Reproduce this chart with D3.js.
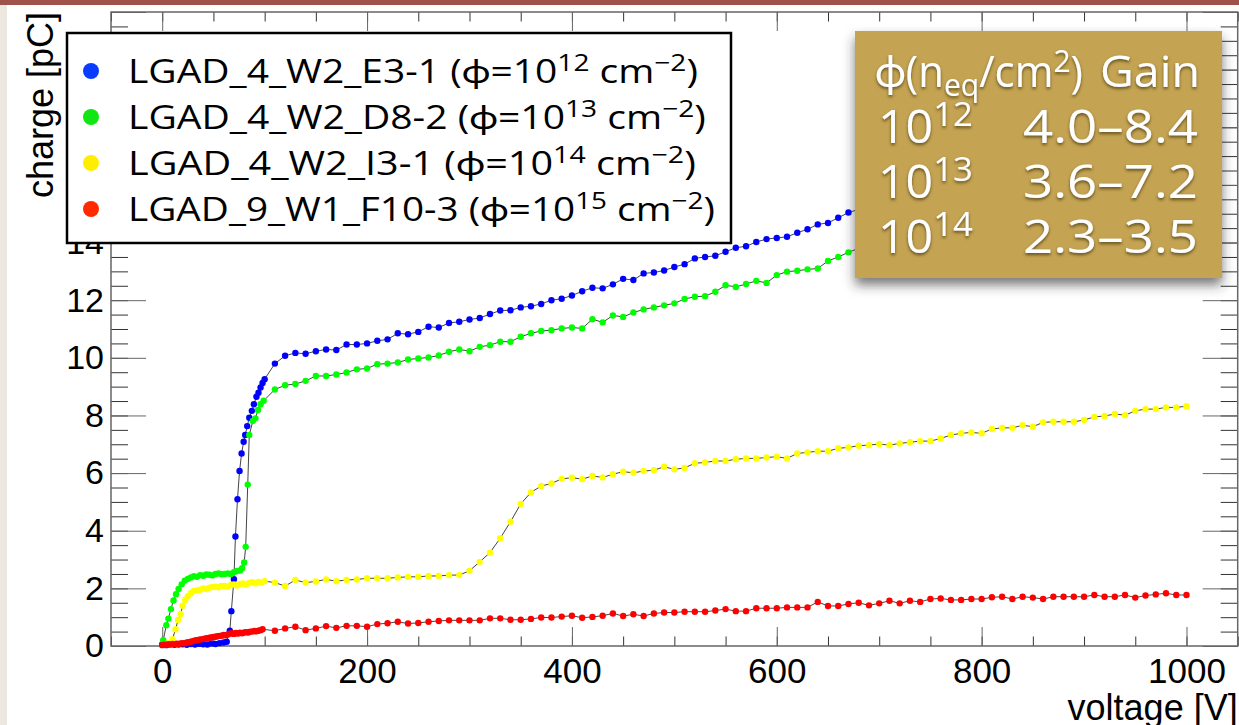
<!DOCTYPE html>
<html>
<head>
<meta charset="utf-8">
<script src="https://cdn.jsdelivr.net/npm/d3@7"></script>
<style>
  body { margin: 0; background: #ece7df; }
  svg { display: block; }
</style>
</head>
<body>
<svg id="svg" width="1239" height="725"></svg>
<script>
// charge vs bias voltage, one [V, pC] pair per measured point
var e31 = [[0,0.05],[4,0.03],[8,0.06],[12,0.04],[16,0.05],[20,0.06],[24,0.04],[28,0.07],[32,0.05],[36,0.08],[40,0.06],[44,0.05],[48,0.09],[52,0.07],[56,0.1],[60,0.12],[63,0.15],[66,0.53],[67.5,1.21],[70,2.32],[71.5,3.8],[73.5,5.09],[75.5,6.07],[77.5,6.68],[79.5,7.09],[81,7.32],[83,7.63],[85,7.92],[87.5,8.16],[89.5,8.39],[92,8.65],[94,8.79],[96,8.97],[98,9.13],[100,9.26],
  [110,9.8],[120,10.07],[130,10.17],[140,10.14],[150,10.23],[160,10.29],[170,10.27],[180,10.46],[190,10.46],[200,10.5],[210,10.59],[220,10.64],[230,10.85],[240,10.82],[250,10.9],[260,11.08],[270,11.05],[280,11.21],[290,11.25],[300,11.33],[310,11.38],[320,11.52],[330,11.64],[340,11.65],[350,11.75],[360,11.79],[370,11.87],[380,12.0],[390,12.05],[400,12.16],[410,12.31],[420,12.43],[430,12.41],[440,12.55],[450,12.74],[460,12.7],[470,12.93],[480,12.96],[490,13.03],[500,13.15],[510,13.25],[520,13.45],[530,13.5],[540,13.54],[550,13.68],[560,13.82],[570,13.87],[580,14.02],[590,14.12],[600,14.16],[610,14.2],[620,14.34],[630,14.46],[640,14.63],[650,14.68],[660,14.86],[670,15.04],[680,15.15],[690,15.3]];

var d82 = [[1,0.2],[4,0.72],[6,0.95],[8.5,1.28],[11,1.58],[13.5,1.8],[16,1.98],[19,2.14],[22,2.27],[25,2.33],[28,2.38],[31,2.42],[34,2.4],[37,2.46],[40,2.44],[43,2.48],[46,2.47],[49,2.45],[52,2.5],[55,2.52],[58,2.49],[61,2.5],[64,2.52],[67,2.5],[70,2.56],[73,2.6],[76,2.62],[78,2.7],[80,2.9],[81.5,3.44],[83.5,5.6],[85,7.32],[88.5,7.81],[91,7.9],[93.5,8.19],[96,8.39],[99,8.51],
  [110,8.9],[120,9.05],[130,9.09],[140,9.2],[150,9.37],[160,9.37],[170,9.42],[180,9.49],[190,9.6],[200,9.63],[210,9.78],[220,9.8],[230,9.84],[240,9.94],[250,9.98],[260,10.01],[270,10.08],[280,10.21],[290,10.29],[300,10.23],[310,10.38],[320,10.44],[330,10.56],[340,10.56],[350,10.73],[360,10.85],[370,10.93],[380,10.96],[390,11.02],[400,11.05],[410,11.02],[420,11.34],[430,11.23],[440,11.47],[450,11.42],[460,11.57],[470,11.68],[480,11.75],[490,11.82],[500,11.89],[510,12.04],[520,12.12],[530,12.14],[540,12.29],[550,12.52],[560,12.46],[570,12.56],[580,12.67],[590,12.6],[600,12.87],[610,12.99],[620,13.02],[630,13.07],[640,13.1],[650,13.36],[660,13.5],[670,13.66],[680,13.8],[690,13.92]];

var i31 = [[2,0.05],[5,0.08],[7,0.11],[10,0.24],[13,0.58],[15.5,0.9],[18,1.11],[20,1.4],[22.5,1.6],[25,1.73],[28,1.83],[31,1.91],[34,1.93],[37,1.95],[40,2.0],[43,1.98],[46,2.02],[49,2.05],[52,2.06],[55,2.04],[58,2.08],[61,2.08],[64,2.06],[67,2.12],[70,2.14],[73,2.1],[76,2.15],[79,2.17],[82,2.13],[85,2.2],[88,2.21],[91,2.18],[94,2.22],[97,2.2],[100,2.25],
  [110,2.2],[120,2.08],[130,2.29],[140,2.2],[150,2.24],[160,2.31],[170,2.25],[180,2.29],[190,2.31],[200,2.35],[210,2.35],[220,2.35],[230,2.38],[240,2.4],[250,2.4],[260,2.43],[270,2.43],[280,2.46],[290,2.46],[300,2.61],[310,2.92],[320,3.24],[330,3.74],[340,4.31],[350,4.93],[360,5.33],[370,5.55],[380,5.64],[390,5.8],[400,5.84],[410,5.79],[420,5.9],[430,5.85],[440,5.96],[450,6.05],[460,6.01],[470,6.07],[480,6.1],[490,6.22],[500,6.13],[510,6.18],[520,6.34],[530,6.37],[540,6.42],[550,6.42],[560,6.48],[570,6.51],[580,6.51],[590,6.54],[600,6.57],[610,6.51],[620,6.68],[630,6.72],[640,6.76],[650,6.76],[660,6.86],[670,6.89],[680,6.95],[690,6.97],[700,7.01],[710,6.97],[720,7.03],[730,7.07],[740,7.11],[750,7.11],[760,7.2],[770,7.32],[780,7.38],[790,7.41],[800,7.38],[810,7.53],[820,7.57],[830,7.57],[840,7.66],[850,7.61],[860,7.76],[870,7.78],[880,7.78],[890,7.78],[900,7.84],[910,7.95],[920,7.98],[930,8.05],[940,8.01],[950,8.16],[960,8.22],[970,8.22],[980,8.28],[990,8.28],[1000,8.32]];

var f103 = [[0,0.03],[2,0.05],[4,0.04],[6,0.06],[8,0.05],[10,0.07],[12,0.06],[14,0.08],[16,0.07],[18,0.09],[20,0.1],[22,0.09],[24,0.12],[26,0.13],[28,0.15],[30,0.17],[32,0.19],[34,0.2],[36,0.22],[38,0.23],[40,0.24],[42,0.26],[44,0.27],[46,0.29],[48,0.3],[50,0.31],[52,0.32],[54,0.34],[56,0.35],[58,0.36],[60,0.38],[62,0.37],[64,0.4],[66,0.43],[68,0.44],[70,0.42],[72,0.45],[74,0.43],[76,0.46],[78,0.44],[80,0.47],[82,0.48],[84,0.47],[86,0.5],[88,0.5],[90,0.52],[92,0.51],[94,0.53],[96,0.55],[98,0.58],
  [110,0.53],[120,0.61],[130,0.67],[140,0.55],[150,0.61],[160,0.69],[170,0.63],[180,0.7],[190,0.7],[200,0.67],[210,0.76],[220,0.79],[230,0.84],[240,0.78],[250,0.8],[260,0.84],[270,0.87],[280,0.89],[290,0.89],[300,0.89],[310,0.89],[320,0.96],[330,0.96],[340,0.91],[350,0.91],[360,0.94],[370,0.99],[380,0.99],[390,1.02],[400,1.05],[410,0.98],[420,1.01],[430,1.05],[440,1.13],[450,1.04],[460,1.1],[470,1.04],[480,1.13],[490,1.16],[500,1.16],[510,1.19],[520,1.19],[530,1.19],[540,1.23],[550,1.28],[560,1.21],[570,1.21],[580,1.31],[590,1.31],[600,1.31],[610,1.34],[620,1.34],[630,1.34],[640,1.53],[650,1.39],[660,1.39],[670,1.46],[680,1.5],[690,1.41],[700,1.48],[710,1.57],[720,1.48],[730,1.57],[740,1.53],[750,1.63],[760,1.65],[770,1.6],[780,1.6],[790,1.63],[800,1.63],[810,1.69],[820,1.71],[830,1.63],[840,1.71],[850,1.68],[860,1.63],[870,1.71],[880,1.71],[890,1.71],[900,1.71],[910,1.77],[920,1.71],[930,1.71],[940,1.77],[950,1.68],[960,1.75],[970,1.79],[980,1.83],[990,1.77],[1000,1.77]];

var seriesNames = ["LGAD_4_W2_E3-1", "LGAD_4_W2_D8-2", "LGAD_4_W2_I3-1", "LGAD_9_W1_F10-3"];
var seriesExp = ["12", "13", "14", "15"];
var dotColors = ["#0000ff", "#00ff00", "#ffff00", "#ff0000"];
var keyColors = ["#0a3cff", "#12e612", "#ffee00", "#ff2a00"];

var gainExp = ["12", "13", "14"];
var gainRange = ["4.0\u20138.4", "3.6\u20137.2", "2.3\u20133.5"];

var xMajor = [0, 200, 400, 600, 800, 1000];
var yMajor = [0, 2, 4, 6, 8, 10, 12, 14, 16, 18, 20];

var svg = d3.select("#svg"),
    width = 1239,
    height = 725;

// frame edges ("top" is taken by window.top, so use other names)
var fLeft = 111, fRight = 1237.7, fTop = 12, fBottom = 646;

var x = d3.scaleLinear().domain([-50, 1050]).range([fLeft, fRight]);
var y = d3.scaleLinear().domain([0, 22]).range([fBottom, fTop]);

var axisFont = "'Liberation Sans', Arial, Helvetica, sans-serif";
var slideFont = "'Open Sans', Lato, sans-serif";

// slide background
svg.append("rect").attr("width", width).attr("height", height).attr("fill", "#ece7df");
svg.append("rect").attr("width", width).attr("height", 5).attr("fill", "#a0524a");
svg.append("rect").attr("x", 7).attr("y", 5).attr("width", width - 7).attr("height", height - 5).attr("fill", "#fff");

var defs = svg.append("defs");
defs.append("filter").attr("id", "boxShadow")
    .attr("x", "-10%").attr("y", "-10%").attr("width", "120%").attr("height", "130%")
  .append("feDropShadow")
    .attr("dx", 0).attr("dy", 7).attr("stdDeviation", 6)
    .attr("flood-color", "#333").attr("flood-opacity", 0.65);
defs.append("filter").attr("id", "textShadow")
  .append("feDropShadow")
    .attr("dx", 0).attr("dy", 2).attr("stdDeviation", 1.5)
    .attr("flood-color", "#4a3a10").attr("flood-opacity", 0.8);

// ticks, ROOT style (inside the frame on all four sides)
function ticks(axis, tx, ty, vals, size, col) {
    var g = svg.append("g")
        .attr("transform", "translate(" + tx + "," + ty + ")")
        .call(axis.tickValues(vals).tickSize(size).tickFormat(""));
    g.select(".domain").remove();
    g.selectAll("line").attr("stroke", col).attr("stroke-width", 1);
}
var xMinor = d3.range(-50, 1051, 50);
var yMinor = d3.range(0, 22.01, 0.5);
ticks(d3.axisTop(x), 0, fBottom, xMinor, 9.5, "#333");
ticks(d3.axisTop(x), 0, fBottom, xMajor, 19, "#666");
ticks(d3.axisBottom(x), 0, fTop, xMinor, 9.5, "#333");
ticks(d3.axisBottom(x), 0, fTop, xMajor, 19, "#666");
ticks(d3.axisRight(y), fLeft, 0, yMinor, 17, "#333");
ticks(d3.axisRight(y), fLeft, 0, yMajor.concat([22]), 35, "#666");
ticks(d3.axisLeft(y), fRight, 0, yMinor, 17, "#333");
ticks(d3.axisLeft(y), fRight, 0, yMajor.concat([22]), 35, "#666");

// frame
svg.append("rect")
    .attr("x", fLeft).attr("y", fTop)
    .attr("width", fRight - fLeft).attr("height", fBottom - fTop)
    .attr("fill", "none").attr("stroke", "#666").attr("stroke-width", 1.5);

// tick labels
var xLab = svg.append("g")
    .attr("transform", "translate(0," + fBottom + ")")
    .call(d3.axisBottom(x).tickValues(xMajor).tickSize(0).tickPadding(12).tickFormat(d3.format("d")));
xLab.select(".domain").remove();
xLab.selectAll("text").style("font-family", axisFont).style("font-size", "35px").attr("fill", "#000");

var yLab = svg.append("g")
    .attr("transform", "translate(" + fLeft + ",0)")
    .call(d3.axisLeft(y).tickValues(yMajor).tickSize(0).tickPadding(7));
yLab.select(".domain").remove();
yLab.selectAll("text").style("font-family", axisFont).style("font-size", "34px").attr("fill", "#000");

// axis titles
svg.append("text")
    .attr("x", fRight).attr("y", 720)
    .attr("text-anchor", "end")
    .style("font-family", axisFont).style("font-size", "36px")
    .text("voltage [V]");
svg.append("text")
    .attr("transform", "translate(53," + fTop + ") rotate(-90)")
    .attr("text-anchor", "end")
    .style("font-family", axisFont).style("font-size", "36px")
    .text("charge [pC]");

// the four graphs
var line = d3.line().x(function(d) { return x(d[0]); }).y(function(d) { return y(d[1]); });
var allSeries = [e31, d82, i31, f103];

allSeries.forEach(function(s, i) {
    var g = svg.append("g").attr("class", "graph");
    g.append("path")
        .datum(s)
        .attr("d", line)
        .attr("fill", "none")
        .attr("stroke", "#444")
        .attr("stroke-width", 1);
    g.selectAll("circle")
        .data(s)
        .enter()
        .append("circle")
        .attr("cx", function(d) { return x(d[0]); })
        .attr("cy", function(d) { return y(d[1]); })
        .attr("r", 3.2)
        .attr("fill", dotColors[i]);
});

// text with superscripts / subscripts, parts = [text, shift] pairs
function richText(sel, parts, size) {
    var cur = 0;
    parts.forEach(function(p) {
        var shift = p[1];
        var fs = shift === 0 ? size : size * 0.72;
        sel.append("tspan")
            .attr("dy", shift - cur)
            .style("font-size", fs + "px")
            .text(p[0]);
        cur = shift;
    });
}

// stretch a text sideways so it spans w pixels (the slide font is a wide Gill Sans)
function stretch(t, px, py, w, anchorEnd) {
    var len = t.node().getComputedTextLength();
    var k = w / len;
    t.attr("x", 0).attr("y", 0)
        .attr("text-anchor", anchorEnd ? "end" : "start")
        .attr("transform", "translate(" + px + "," + py + ") scale(" + k + ",1)");
}

// legend
var legend = svg.append("g");
legend.append("rect")
    .attr("x", 67).attr("y", 33).attr("width", 664).attr("height", 210)
    .attr("fill", "#fff").attr("stroke", "#000").attr("stroke-width", 2.5);

var legendWidths = [570, 578, 568, 587];
seriesNames.forEach(function(name, i) {
    var by = 83 + i * 46;
    legend.append("circle")
        .attr("cx", 91).attr("cy", by - 12).attr("r", 8)
        .attr("fill", keyColors[i]);
    var t = legend.append("text")
        .style("font-family", slideFont)
        .attr("fill", "#000");
    richText(t, [[name + " (\u03D5=10", 0], [seriesExp[i], -12], [" cm", 0], ["\u22122", -12], [")", 0]], 32);
    stretch(t, 128, by, legendWidths[i], false);
});

// gain table
var box = svg.append("g");
box.append("rect")
    .attr("x", 855).attr("y", 31).attr("width", 367).attr("height", 247)
    .attr("fill", "#c4a352")
    .attr("filter", "url(#boxShadow)");

var boxText = box.append("g").attr("filter", "url(#textShadow)")
    .style("font-family", slideFont).attr("fill", "#fff");

var head = boxText.append("text");
richText(head, [["\u03D5(n", 0], ["eq", 9], ["/cm", 0], ["2", -15], [")", 0]], 44);
stretch(head, 875, 87, 208, false);
var gain = boxText.append("text").style("font-size", "44px").text("Gain");
stretch(gain, 1200, 87, 100, true);

gainExp.forEach(function(e, i) {
    var by = 143 + i * 55;
    var t = boxText.append("text");
    richText(t, [["10", 0], [e, -17], ["", 0]], 46);
    stretch(t, 878, by, 95, false);
    var r = boxText.append("text").style("font-size", "46px").text(gainRange[i]);
    stretch(r, 1198, by, 175, true);
});
</script>
</body>
</html>
